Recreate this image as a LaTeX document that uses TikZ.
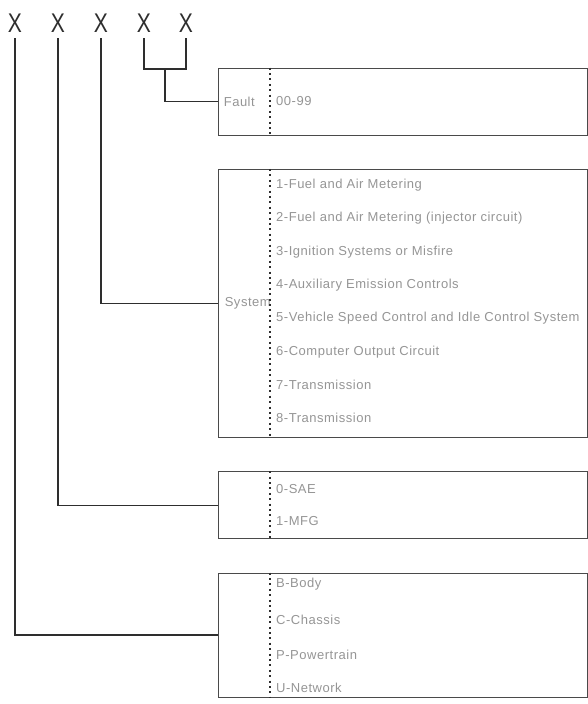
\documentclass[tikz,border=0pt]{standalone}
\usepackage{fontspec}
\setmainfont{Liberation Sans}[LetterSpace=4.0]
\usepackage{tikz}
\usetikzlibrary{positioning}
\definecolor{darkLine}{HTML}{2E2E2E}
\definecolor{boxLine}{HTML}{4A4A4A}
\definecolor{softText}{HTML}{959595}

\begin{document}
\begin{tikzpicture}[
  x=1pt, y=-1pt,
  node distance=33.5pt,
  digit/.style={anchor=base, inner sep=0pt, outer ysep=6pt, text=darkLine, font=\fontsize{27}{27}\selectfont},
  panel/.style={rectangle, draw=boxLine, line width=0.8pt, minimum width=369pt, inner sep=0pt},
  boxtag/.style={inner sep=0pt, text=softText, font=\fontsize{13}{15}\selectfont},
  entry/.style={anchor=west, inner sep=0pt, text=softText, font=\fontsize{13}{15}\selectfont},
  sepline/.style={draw=darkLine, line width=2pt, dash pattern=on 2pt off 3.4pt},
  wire/.style={draw=darkLine, line width=1.2pt}
]
\useasboundingbox (0,0) rectangle (588,704);
% the five code positions
\node[digit] (d1) at (15,32) {\scalebox{0.78}[1]{X}};
\node[digit] (d2) at (58,32) {\scalebox{0.78}[1]{X}};
\node[digit] (d3) at (101,32) {\scalebox{0.78}[1]{X}};
\node[digit] (d4) at (144,32) {\scalebox{0.78}[1]{X}};
\node[digit] (d5) at (186,32) {\scalebox{0.78}[1]{X}};
% boxes
\node[panel, minimum height=67pt] (fault) at (402.5,101.5) {};
\node[panel, minimum height=268pt, below=of fault] (system) {};
\node[panel, minimum height=67pt, below=of system] (origin) {};
\node[panel, minimum height=124pt, below=of origin] (area) {};
\node[boxtag, right=6pt of fault.west] (faulttag) {Fault};
\node[boxtag, right=7pt of system.west] (systemtag) {System};
\draw[sepline] ([xshift=52pt]fault.north west) -- ([xshift=52pt]fault.south west);
\draw[sepline] ([xshift=52pt]system.north west) -- ([xshift=52pt]system.south west);
\draw[sepline] ([xshift=52pt]origin.north west) -- ([xshift=52pt]origin.south west);
\draw[sepline] ([xshift=52pt]area.north west) -- ([xshift=52pt]area.south west);
% entries
\node[entry] (f1) at (276,101) {00-99};
\node[entry] (s1) at (276,185) {1-Fuel and Air Metering};
\node[entry] (s2) at (276,218) {2-Fuel and Air Metering (injector circuit)};
\node[entry] (s3) at (276,252) {3-Ignition Systems or Misfire};
\node[entry] (s4) at (276,285) {4-Auxiliary Emission Controls};
\node[entry] (s5) at (276,318) {5-Vehicle Speed Control and Idle Control System};
\node[entry] (s6) at (276,352) {6-Computer Output Circuit};
\node[entry] (s7) at (276,385) {7-Transmission};
\node[entry] (s8) at (276,418) {8-Transmission};
\node[entry] (o1) at (276,489) {0-SAE};
\node[entry] (o2) at (276,521) {1-MFG};
\node[entry] (a1) at (276,584) {B-Body};
\node[entry] (a2) at (276,620) {C-Chassis};
\node[entry] (a3) at (276,655) {P-Powertrain};
\node[entry] (a4) at (276,688) {U-Network};
% connectors
\coordinate (fj) at (165,69);
\draw[wire] (d4.south) |- (fj) -| (d5.south);
\draw[wire] (fj) |- (fault.west);
\draw[wire] (d3.south) |- (system.west);
\draw[wire] (d2.south) |- (origin.west);
\draw[wire] (d1.south) |- (area.west);
\end{tikzpicture}
\end{document}
